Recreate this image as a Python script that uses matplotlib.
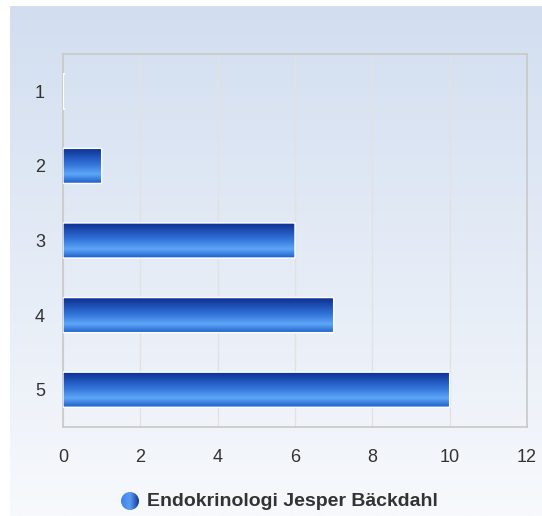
import numpy as np
import matplotlib
matplotlib.use('Agg')
import matplotlib.pyplot as plt
from matplotlib.colors import LinearSegmentedColormap
from matplotlib.patches import FancyBboxPatch, Circle

plt.rcParams['font.family'] = ['Liberation Sans', 'DejaVu Sans']

# 数据
categories = ['1', '2', '3', '4', '5']
values = [0, 1, 6, 7, 10]
x_ticks = [0, 2, 4, 6, 8, 10, 12]
series_name = 'Endokrinologi Jesper Bäckdahl'

W, H = 542, 516
fig = plt.figure(figsize=(W / 100, H / 100), dpi=100)

# 背景渐变
bg = fig.add_axes([10 / W, 0, 1 - 10 / W, (H - 6) / H])
bg_cmap = LinearSegmentedColormap.from_list('bg', ['#d2def0', '#f7f9fc'])
bg.imshow(np.linspace(0, 1, 256).reshape(-1, 1), cmap=bg_cmap, aspect='auto',
          extent=[0, 1, 0, 1], origin='upper')
bg.set_axis_off()

# 主图
left, top, right, bottom = 63, 54, 527, 427
ax = fig.add_axes([left / W, 1 - bottom / H, (right - left) / W, (bottom - top) / H])
ax.set_facecolor('none')
ax.set_xlim(0, 12)
ax.set_ylim(4.5, -0.5)
ax.set_xticks(x_ticks)
ax.set_yticks(range(len(categories)))
ax.set_yticklabels(categories)
ax.tick_params(length=0, labelsize=13, labelcolor='#333333')
ax.tick_params(axis='x', pad=16)
ax.tick_params(axis='y', pad=13)
ax.grid(axis='x', color='#e2e2e2', linewidth=1)
ax.set_axisbelow(True)
for s in ax.spines.values():
    s.set_color('#c8c8c8')
    s.set_linewidth(1.2)

bars = ax.barh(range(len(values)), values, height=0.47, color='none')

bar_cmap = LinearSegmentedColormap.from_list(
    'bar', [(0, '#0b2b8c'), (0.45, '#2f6fd6'), (0.75, '#5ea6f7'), (1, '#1d5ec9')])
grad = np.linspace(0, 1, 256).reshape(-1, 1)
for b in bars:
    x0, y0 = b.get_x(), b.get_y()
    w, h = b.get_width(), b.get_height()
    patch = FancyBboxPatch((x0, y0), w, h, boxstyle='round,pad=0,rounding_size=0.04',
                           mutation_aspect=1 / 8, facecolor='none', edgecolor='white',
                           linewidth=1.0, zorder=4)
    ax.add_patch(patch)
    if w > 0:
        im = ax.imshow(grad, cmap=bar_cmap, aspect='auto', extent=[x0, x0 + w, y0 + h, y0],
                       origin='upper', zorder=3)
        im.set_clip_path(patch)

ax.set_xlim(0, 12)
ax.set_ylim(4.5, -0.5)

# 图例
cax = fig.add_axes([120 / W, 1 - 511 / H, 20 / W, 20 / H])
cax.set_xlim(0, 1)
cax.set_ylim(0, 1)
cax.set_axis_off()
circ = Circle((0.5, 0.5), 0.45, facecolor='none', edgecolor='none')
cax.add_patch(circ)
leg_cmap = LinearSegmentedColormap.from_list('leg', ['#3c7fe8', '#5a9cf2', '#0b2b8c'])
cim = cax.imshow(np.linspace(0, 1, 256).reshape(1, -1), cmap=leg_cmap, aspect='auto',
                 extent=[0, 1, 0, 1])
cim.set_clip_path(circ)
fig.text(147 / W, 1 - 502 / H, series_name, fontsize=14, fontweight='bold',
         color='#333333', va='center', ha='left')

fig.savefig('out.png', dpi=100)
